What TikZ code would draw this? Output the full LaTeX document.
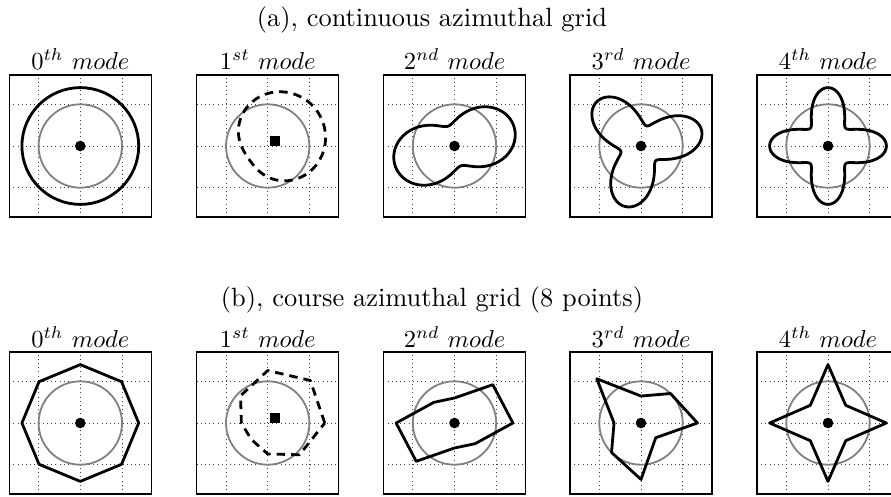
\documentclass[tikz,border=0pt]{standalone}
\begin{document}
\tikzset{
  pgrid/.style={line width=0.8pt, black!75, dash pattern=on 0.8pt off 3.4pt},
  refcirc/.style={black!50, line width=1.8pt},
  pframe/.style={line width=1.2pt, black},
  modecurve/.style={line width=2.8pt, line join=round, black},
  modedash/.style={modecurve, dash pattern=on 8.5pt off 6pt},
  ptitle/.style={scale=2.45, anchor=base, inner sep=0pt},
  mtitle/.style={scale=2.64, anchor=base, inner sep=0pt},
}
\newcommand\mypanelbg{%
  \foreach \g in {-1,0,1} {%
    \draw[pgrid] (\g,-1.703) -- (\g,1.703);
    \draw[pgrid] (-1.703,\g) -- (1.703,\g);
  }
  \draw[refcirc] (0,0) circle[radius=1];
}
\newcommand\mypanelfg{%
  \draw[pframe] (-1.703,-1.703) rectangle (1.703,1.703);
}
\newcommand\mydot{\fill (0,0) circle[radius=5.3pt];}
\newcommand\mysquare{\fill (0.184,0.129) ++(-5pt,-5pt) rectangle ++(10pt,10pt);}
\begin{tikzpicture}[x=1pt,y=-1pt]
\useasboundingbox (0,0) rectangle (891,497);
\clip (0,0) rectangle (891,497);

% main titles
\node[mtitle] (tA) at (432,26.7) {(a), continuous azimuthal grid};
\node[mtitle] (tB) at (432,306.5) {(b), course azimuthal grid (8 points)};

% panel titles
\foreach \cx/\lab/\nm in {80.3/th/0, 267.7/st/1, 454.5/nd/2, 641/rd/3, 828/th/4} {
  \node[ptitle] (pa\nm) at (\cx,69.5) {$\nm^{\lab}$ $mode$};
  \node[ptitle] (pb\nm) at (\cx,347) {$\nm^{\lab}$ $mode$};
}

% ---------- row (a) ----------
\begin{scope}[shift={(80.3,146)}, x=41.7pt, y=41.7pt]
  \mypanelbg
  \draw[modecurve] (0,0) circle[radius=1.4];
  \mydot \mypanelfg
\end{scope}
\begin{scope}[shift={(267.7,146)}, x=41.7pt, y=41.7pt]
  \mypanelbg
  \draw[modedash] plot[domain=0:360, samples=241, variable=\t] (\t:{1+0.45*cos(\t-35)}) -- cycle;
  \mysquare \mypanelfg
\end{scope}
\begin{scope}[shift={(454.5,146)}, x=41.7pt, y=41.7pt]
  \mypanelbg
  \draw[modecurve] plot[domain=0:360, samples=241, variable=\t] (\t:{1+0.5*cos(2*(\t-18.4))}) -- cycle;
  \mydot \mypanelfg
\end{scope}
\begin{scope}[shift={(641,146)}, x=41.7pt, y=41.7pt]
  \mypanelbg
  \draw[modecurve] plot[domain=0:360, samples=241, variable=\t] (\t:{1+0.5*cos(3*(\t-15))}) -- cycle;
  \mydot \mypanelfg
\end{scope}
\begin{scope}[shift={(828,146)}, x=41.7pt, y=41.7pt]
  \mypanelbg
  \draw[modecurve] plot[domain=0:360, samples=241, variable=\t] (\t:{1+0.4*cos(4*\t)}) -- cycle;
  \mydot \mypanelfg
\end{scope}

% ---------- row (b) ----------
\begin{scope}[shift={(80.3,423)}, x=41.7pt, y=41.7pt]
  \mypanelbg
  \draw[modecurve] plot[domain=0:315, samples=8, variable=\t] (\t:1.4) -- cycle;
  \mydot \mypanelfg
\end{scope}
\begin{scope}[shift={(267.7,423)}, x=41.7pt, y=41.7pt]
  \mypanelbg
  \draw[modedash] plot[domain=0:315, samples=8, variable=\t] (\t:{1+0.45*cos(\t-35)}) -- cycle;
  \mysquare \mypanelfg
\end{scope}
\begin{scope}[shift={(454.5,423)}, x=41.7pt, y=41.7pt]
  \mypanelbg
  \draw[modecurve] plot[domain=0:315, samples=8, variable=\t] (\t:{1+0.5*cos(2*(\t-18.4))}) -- cycle;
  \mydot \mypanelfg
\end{scope}
\begin{scope}[shift={(641,423)}, x=41.7pt, y=41.7pt]
  \mypanelbg
  \draw[modecurve] plot[domain=0:315, samples=8, variable=\t] (\t:{1+0.5*cos(3*(\t-15))}) -- cycle;
  \mydot \mypanelfg
\end{scope}
\begin{scope}[shift={(828,423)}, x=41.7pt, y=41.7pt]
  \mypanelbg
  \draw[modecurve] plot[domain=0:315, samples=8, variable=\t] (\t:{1+0.4*cos(4*\t)}) -- cycle;
  \mydot \mypanelfg
\end{scope}
\end{tikzpicture}
\end{document}
